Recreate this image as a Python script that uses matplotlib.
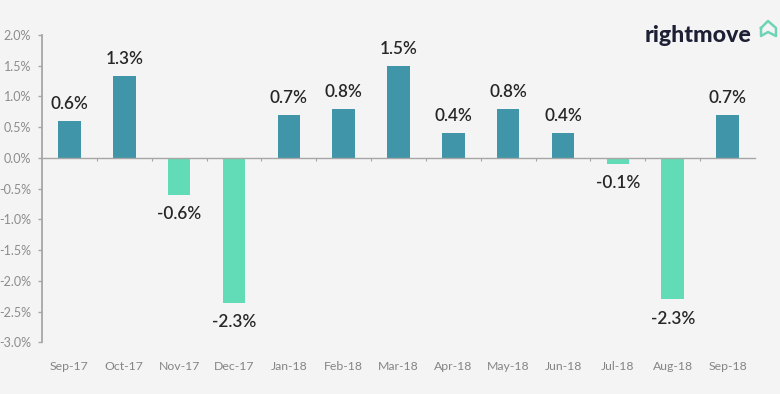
import matplotlib.pyplot as plt
import numpy as np

months = ['Sep-17', 'Oct-17', 'Nov-17', 'Dec-17', 'Jan-18', 'Feb-18', 'Mar-18',
          'Apr-18', 'May-18', 'Jun-18', 'Jul-18', 'Aug-18', 'Sep-18']
values = [0.6, 1.33, -0.6, -2.35, 0.7, 0.8, 1.5, 0.4, 0.8, 0.4, -0.1, -2.3, 0.7]
labels = ['0.6%', '1.3%', '-0.6%', '-2.3%', '0.7%', '0.8%', '1.5%',
          '0.4%', '0.8%', '0.4%', '-0.1%', '-2.3%', '0.7%']
yticks = [2.0, 1.5, 1.0, 0.5, 0.0, -0.5, -1.0, -1.5, -2.0, -2.5, -3.0]

plt.rcParams['font.family'] = ['Lato', 'DejaVu Sans']
W, H = 780, 394
bg = '#f4f4f4'
fig = plt.figure(figsize=(W/100, H/100), dpi=100, facecolor=bg)
ax = fig.add_axes([42/W, 1-342.5/H, (755-42)/W, (342.5-35)/H], facecolor=bg)

x = np.arange(len(months))
colors = ['#4095a8' if v >= 0 else '#62dcb6' for v in values]
ax.bar(x, values, width=0.41, color=colors, zorder=2)

ax.set_xlim(-0.5, len(months)-0.5)
ax.set_ylim(-3, 2)
ax.set_yticks(yticks)
ax.set_yticklabels(['%.1f%%' % t for t in yticks])

for s in ['top', 'right']:
    ax.spines[s].set_visible(False)
ax.spines['left'].set_color('#a6a6a6')
ax.spines['left'].set_linewidth(1.3)
ax.spines['bottom'].set_position(('data', 0))
ax.spines['bottom'].set_color('#a6a6a6')
ax.spines['bottom'].set_linewidth(1.0)
ax.spines['bottom'].set_zorder(3)

ax.tick_params(axis='y', colors='#a6a6a6', labelcolor='#8c8c8c', labelsize=9,
               length=3, width=1, pad=5)
ax.set_xticks(x)
ax.set_xticklabels(months)
ax.tick_params(axis='x', which='major', length=0, pad=146, labelsize=8.8,
               labelcolor='#858585')
ax.set_xticks(x[:-1]+0.5, minor=True)
ax.tick_params(axis='x', which='minor', length=2.5, width=0.8, color='#a6a6a6')

# value labels sit above/below the bars
for i, (v, lab) in enumerate(zip(values, labels)):
    offset = 0.15 if v >= 0 else -0.18
    ax.text(i, v+offset, lab, ha='center', va='bottom' if v >= 0 else 'top',
            fontsize=12.3, color='#262626', fontweight='semibold')

# logo
fig.text(645/W, 1-42/H, 'rightmove', fontsize=16.7, fontweight='black',
         color='#1d2035', ha='left', va='baseline')
hx = np.array([761, 761, 768, 776, 776, 768, 761])
hy = np.array([28, 36, 32, 36, 28, 21, 28])
ax_logo = fig.add_axes([0, 0, 1, 1], facecolor='none')
ax_logo.set_xlim(0, W)
ax_logo.set_ylim(H, 0)
ax_logo.axis('off')
ax_logo.plot(hx, hy, color='#6fd3b5', lw=1.8, solid_joinstyle='round')

fig.savefig('out.png', dpi=100, facecolor=bg)
